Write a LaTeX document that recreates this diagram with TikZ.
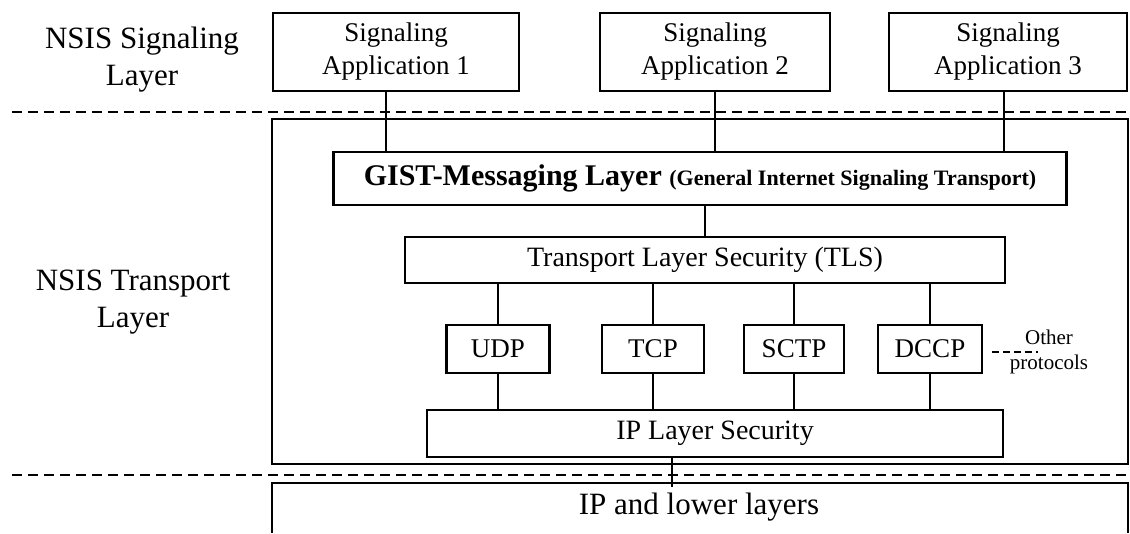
\documentclass[tikz,border=0pt]{standalone}
\usepackage{fontspec}
\setmainfont{Liberation Serif}
\begin{document}
\begin{tikzpicture}[x=1pt,y=-1pt,
  box/.style={draw, line width=2.5pt, inner sep=0pt, outer sep=0pt, align=center},
  appbox/.style={box, minimum height=78, font=\fontsize{27}{33}\selectfont},
  protobox/.style={box, minimum height=48, font=\fontsize{27}{31}\selectfont},
  layerlabel/.style={align=center, inner sep=0pt, font=\fontsize{31}{37}\selectfont},
  link/.style={line width=1.8pt},
  sep/.style={line width=2.2pt, dash pattern=on 10pt off 6pt},
  frameline/.style={line width=2.6pt}]
\useasboundingbox (0,0) rectangle (1130,533);

% layer separators
\coordinate (sepAl) at (12,112);  \coordinate (sepAr) at (1130,112);
\coordinate (sepBl) at (12,475);  \coordinate (sepBr) at (1130,475);
\draw[sep] (sepAl) -- (sepAr);
\draw[sep] (sepBl) -- (sepBr);

% layer names
\node[layerlabel] (siglayer) at (142,60) {NSIS Signaling\\Layer};
\node[layerlabel] (translayer) at (133,302) {NSIS Transport\\Layer};

% signaling applications
\node[appbox, minimum width=246] (app1) at (396,52) {Signaling\\Application 1};
\node[appbox, minimum width=230] (app2) at (715,52) {Signaling\\Application 2};
\node[appbox, minimum width=238] (app3) at (1008,52) {Signaling\\Application 3};

% transport layer frame
\node[box, line width=2.6pt, minimum width=856, minimum height=345] (tframe) at (700,291.5) {};

% GIST messaging layer
\node[box, minimum width=733, minimum height=53] (gist) at (700,178.5)
  {\bfseries\fontsize{30}{34}\selectfont GIST-Messaging Layer
   \fontsize{22}{26}\selectfont(General Internet Signaling Transport)};

% transport layer security
\node[box, minimum width=600, minimum height=46, font=\fontsize{28}{32}\selectfont] (tls) at (705,260)
  {Transport Layer Security (TLS)};

% transport protocols
\node[protobox, minimum width=103] (udp)  at (498,349) {UDP};
\node[protobox, minimum width=102] (tcp)  at (653,349) {TCP};
\node[protobox, minimum width=100] (sctp) at (794,349) {SCTP};
\node[protobox, minimum width=104] (dccp) at (930,349) {DCCP};

\node[align=center, inner sep=0pt, font=\fontsize{21}{25}\selectfont] (other) at (1049,352)
  {Other\\protocols};
\coordinate (otherstart) at ([xshift=10pt,yshift=-3pt]dccp.east);
\coordinate (otherend) at (1038,352);

% IP layer security
\node[box, minimum width=576, minimum height=47, font=\fontsize{28}{32}\selectfont] (ipl) at (715,433.5)
  {IP Layer Security};

% IP and lower layers (open at the bottom)
\draw[frameline] (272,533) -- (272,483) -- (1128,483) -- (1128,533);
\node[inner sep=0pt, font=\fontsize{31}{35}\selectfont] (lower) at (699,507) {IP and lower layers};
\coordinate (lowtop) at (672,487);

% connectors
\draw[link] ([xshift=-10pt]app1.south) -- ([xshift=-10pt]app1.south |- gist.north);
\draw[link] (app2.south) -- (app2.south |- gist.north);
\draw[link] ([xshift=-4pt]app3.south) -- ([xshift=-4pt]app3.south |- gist.north);
\draw[link] (tls.north |- gist.south) -- (tls.north);
\foreach \p in {udp,tcp,sctp,dccp}{
  \draw[link] (\p.north) -- (\p.north |- tls.south);
  \draw[link] (\p.south) -- (\p.south |- ipl.north);
}
\draw[link] (ipl.south -| lowtop) -- (lowtop);
\draw[link, dash pattern=on 7pt off 4pt] (otherstart) -- (otherend);
\end{tikzpicture}
\end{document}
